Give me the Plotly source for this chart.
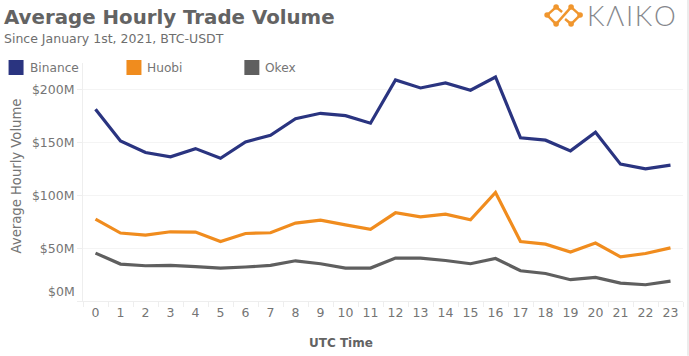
import plotly.graph_objects as go

hours = [str(h) for h in range(24)]
binance = [181.7, 151.7, 140.7, 136.6, 144.4, 135.3, 150.8, 157.1, 172.8, 177.9, 175.7, 168.5, 209.5, 201.9, 206.6, 199.7, 212.3, 154.6, 152.4, 142.3, 160, 129.7, 125.2, 128.7]
huobi = [77.6, 64.4, 62.4, 65.6, 65.3, 56.4, 64, 64.7, 73.8, 76.6, 72.2, 68, 83.6, 79.8, 82.3, 77, 102.8, 56.4, 53.9, 46.4, 54.9, 41.9, 45, 50.4]
okex = [45.4, 35, 33.4, 33.7, 32.5, 31.2, 32.2, 33.7, 38.1, 35.3, 31.2, 31.2, 40.7, 40.7, 38.4, 35.3, 40.3, 28.7, 26.1, 20.2, 22.4, 17, 15.4, 18.9]
names = ["Binance", "Huobi", "Okex"]
colors = ["#2a3480", "#f08c1e", "#5f5f5f"]
y_ticks = [0, 50, 100, 150, 200]
y_labels = ["", "$50M", "$100M", "$150M", "$200M"]

W, H = 689, 356
L, R, T, B = 82.5, 683, 63, 301.3
FONT = "DejaVu Sans"
TXT = "#757575"
fig = go.Figure()
for name, vals, c in zip(names, [binance, huobi, okex], colors):
    fig.add_trace(go.Scatter(x=hours, y=vals, mode="lines", name=name,
                             line=dict(color=c, width=3.2), showlegend=False))

def px(x): return (x - L) / (R - L)
def py(y): return (B - y) / (B - T)

ann = []
shp = []
def text(x, y, s, size, color=TXT, anchor="left", weight=None, angle=0, family=FONT):
    ann.append(dict(xref="paper", yref="paper", x=px(x), y=py(y), text=s, showarrow=False,
                    xanchor=anchor, yanchor="middle", textangle=angle,
                    borderpad=0, font=dict(family=family, size=size, color=color, weight=weight)))

text(2, 17, "Average Hourly Trade Volume", 19.8, "#636363", weight=700)
text(2, 38, "Since January 1st, 2021, BTC-USDT", 12.5, "#6e6e6e")
text(341, 343, "UTC Time", 12, "#636363", anchor="center", weight=700)
text(16, 176, "Average Hourly Volume", 13.2, TXT, anchor="center", angle=-90)
text(75, 292, "$0M", 12.5, TXT, anchor="right")

for lx, name, c in zip([8, 126, 244], names, colors):
    shp.append(dict(type="rect", xref="paper", yref="paper", x0=px(lx), x1=px(lx + 15),
                    y0=py(75), y1=py(60), fillcolor=c, line_width=0))
    text(lx + 20, 68, name, 12.2)

# Kaiko logo
O = "#f0962e"
for (a, b, c_, d) in [(547, 15, 556, 7), (556, 7, 562, 12), (547, 15, 556, 24), (571, 7, 580, 15),
                      (580, 15, 571, 24), (571, 24, 565, 19), (556, 24, 571, 7)]:
    shp.append(dict(type="line", xref="paper", yref="paper", x0=px(a), y0=py(b), x1=px(c_), y1=py(d),
                    line=dict(color=O, width=2.5)))
for (a, b) in [(547, 15), (556, 7), (556, 24), (571, 7), (571, 24), (580, 15)]:
    shp.append(dict(type="circle", xref="paper", yref="paper", x0=px(a - 2.8), x1=px(a + 2.8),
                    y0=py(b - 2.8), y1=py(b + 2.8), fillcolor=O, line_width=0))
text(586, 15.5, "K\u200aΛ\u200aI\u200aK\u200aO", 27.5, "#85878c", family="Lato", weight=300)
# right page edge
shp.append(dict(type="rect", xref="paper", yref="paper", x0=px(687), x1=px(689), y0=py(356), y1=py(0),
                fillcolor="#ececec", line_width=0))

fig.update_layout(
    width=W, height=H, margin=dict(l=L, r=W - R, t=T, b=H - B), autosize=False,
    paper_bgcolor="white", plot_bgcolor="white",
    font=dict(family=FONT, size=12.5, color=TXT),
    annotations=ann, shapes=shp,
    xaxis=dict(type="category", tickson="boundaries", ticks="outside", ticklen=5, tickcolor="#eeeeee",
               showgrid=False, showline=True, linecolor="#eeeeee", tickfont=dict(size=12.5, color=TXT),
               range=[-0.5, 23.5], zeroline=False),
    yaxis=dict(range=[0, (B - T) / 1.0565], tickvals=y_ticks, ticktext=y_labels, ticks="outside", ticklen=5,
               tickcolor="#eeeeee", gridcolor="#f4f4f4", showline=True, linecolor="#eeeeee",
               zeroline=False, tickfont=dict(size=12.5, color=TXT)),
)
fig.write_html("out.html", config={"displayModeBar": False},
               post_script="document.body.style.margin='0';document.documentElement.style.overflow='hidden';")
